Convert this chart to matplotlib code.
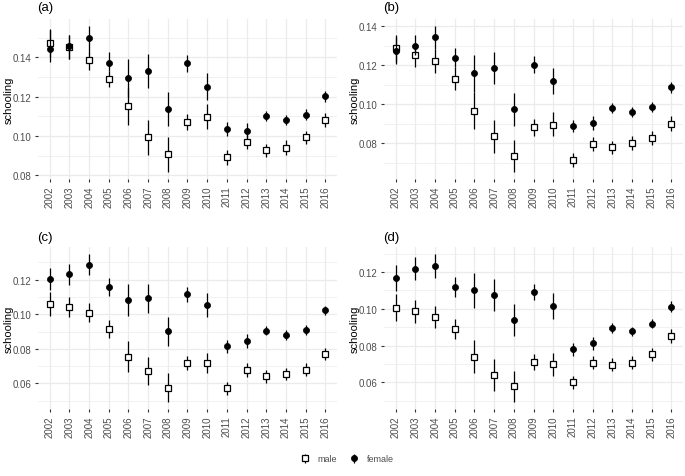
import matplotlib
matplotlib.use("Agg")
import matplotlib.pyplot as plt
from matplotlib.ticker import MultipleLocator, FormatStrFormatter
import numpy as np

plt.rcParams['font.family'] = ['Liberation Sans', 'DejaVu Sans']

years = ["2002", "2003", "2004", "2005", "2006", "2007", "2008", "2009",
         "2010", "2011", "2012", "2013", "2014", "2015", "2016"]

# Panel (a)
a_male = [0.1472, 0.1452, 0.1385, 0.1289, 0.1155, 0.0995, 0.0908, 0.1071,
          0.1099, 0.0892, 0.0970, 0.0928, 0.0941, 0.0993, 0.1081]
a_male_lo = [0.1400, 0.1390, 0.1336, 0.1247, 0.1054, 0.0903, 0.0819, 0.1029,
             0.1037, 0.0855, 0.0936, 0.0894, 0.0906, 0.0958, 0.1045]
a_male_hi = [0.1540, 0.1516, 0.1424, 0.1331, 0.1242, 0.1084, 0.0995, 0.1113,
             0.1163, 0.0931, 0.1007, 0.0961, 0.0978, 0.1025, 0.1118]
a_female = [0.1445, 0.1457, 0.1499, 0.1370, 0.1296, 0.1331, 0.1136, 0.1370,
            0.1252, 0.1037, 0.1027, 0.1101, 0.1082, 0.1109, 0.1202]
a_female_lo = [0.1378, 0.1390, 0.1415, 0.1331, 0.1197, 0.1242, 0.1049, 0.1326,
               0.1185, 0.1003, 0.0990, 0.1076, 0.1057, 0.1082, 0.1171]
a_female_hi = [0.1543, 0.1516, 0.1558, 0.1427, 0.1390, 0.1415, 0.1225, 0.1410,
               0.1319, 0.1071, 0.1066, 0.1126, 0.1109, 0.1138, 0.1230]

# Panel (b)
b_male = [0.1289, 0.1250, 0.1221, 0.1130, 0.0967, 0.0834, 0.0736, 0.0881,
          0.0895, 0.0712, 0.0797, 0.0778, 0.0801, 0.0828, 0.0900]
b_male_lo = [0.1207, 0.1190, 0.1161, 0.1075, 0.0873, 0.0749, 0.0653, 0.0838,
             0.0834, 0.0679, 0.0761, 0.0743, 0.0766, 0.0792, 0.0864]
b_male_hi = [0.1356, 0.1301, 0.1284, 0.1190, 0.1061, 0.0919, 0.0818, 0.0924,
             0.0958, 0.0748, 0.0833, 0.0812, 0.0835, 0.0861, 0.0938]
b_female = [0.1275, 0.1301, 0.1344, 0.1236, 0.1161, 0.1185, 0.0975, 0.1202,
            0.1119, 0.0890, 0.0903, 0.0981, 0.0958, 0.0984, 0.1087]
b_female_lo = [0.1215, 0.1250, 0.1284, 0.1190, 0.1061, 0.1104, 0.0890, 0.1161,
               0.1053, 0.0859, 0.0869, 0.0953, 0.0933, 0.0958, 0.1058]
b_female_hi = [0.1345, 0.1356, 0.1400, 0.1287, 0.1250, 0.1267, 0.1058, 0.1246,
               0.1185, 0.0921, 0.0938, 0.1007, 0.0984, 0.1010, 0.1113]

# Panel (c)
c_male = [0.1061, 0.1045, 0.1010, 0.0916, 0.0754, 0.0674, 0.0575, 0.0719,
          0.0717, 0.0572, 0.0677, 0.0643, 0.0654, 0.0679, 0.0771]
c_male_lo = [0.0992, 0.0986, 0.0955, 0.0862, 0.0664, 0.0592, 0.0495, 0.0676,
             0.0658, 0.0534, 0.0637, 0.0605, 0.0619, 0.0643, 0.0735]
c_male_hi = [0.1128, 0.1103, 0.1064, 0.0966, 0.0843, 0.0755, 0.0658, 0.0759,
             0.0779, 0.0609, 0.0716, 0.0679, 0.0689, 0.0716, 0.0808]
c_female = [0.1204, 0.1231, 0.1285, 0.1161, 0.1081, 0.1093, 0.0903, 0.1115,
            0.1054, 0.0815, 0.0846, 0.0906, 0.0881, 0.0908, 0.1023]
c_female_lo = [0.1138, 0.1171, 0.1225, 0.1109, 0.0988, 0.1006, 0.0817, 0.1070,
               0.0986, 0.0779, 0.0808, 0.0879, 0.0854, 0.0879, 0.0996]
c_female_hi = [0.1270, 0.1289, 0.1347, 0.1212, 0.1177, 0.1177, 0.0986, 0.1157,
               0.1122, 0.0850, 0.0885, 0.0933, 0.0908, 0.0937, 0.1050]

# Panel (d)
d_male = [0.1007, 0.0987, 0.0955, 0.0889, 0.0740, 0.0640, 0.0580, 0.0713,
          0.0698, 0.0602, 0.0707, 0.0696, 0.0707, 0.0753, 0.0853]
d_male_lo = [0.0936, 0.0924, 0.0896, 0.0835, 0.0649, 0.0555, 0.0496, 0.0669,
             0.0636, 0.0567, 0.0671, 0.0660, 0.0671, 0.0718, 0.0815]
d_male_hi = [0.1078, 0.1049, 0.1013, 0.0945, 0.0831, 0.0727, 0.0664, 0.0755,
             0.0758, 0.0636, 0.0744, 0.0733, 0.0744, 0.0787, 0.0891]
d_female = [0.1165, 0.1218, 0.1233, 0.1118, 0.1100, 0.1076, 0.0942, 0.1093,
            0.1018, 0.0780, 0.0813, 0.0896, 0.0878, 0.0920, 0.1011]
d_female_lo = [0.1096, 0.1155, 0.1169, 0.1064, 0.1005, 0.0991, 0.0855, 0.1049,
               0.0945, 0.0745, 0.0776, 0.0869, 0.0853, 0.0895, 0.0982]
d_female_hi = [0.1236, 0.1282, 0.1296, 0.1173, 0.1195, 0.1164, 0.1027, 0.1136,
               0.1085, 0.0813, 0.0849, 0.0922, 0.0904, 0.0945, 0.1040]

panels = [
    ("(a)", a_male, a_male_lo, a_male_hi, a_female, a_female_lo, a_female_hi),
    ("(b)", b_male, b_male_lo, b_male_hi, b_female, b_female_lo, b_female_hi),
    ("(c)", c_male, c_male_lo, c_male_hi, c_female, c_female_lo, c_female_hi),
    ("(d)", d_male, d_male_lo, d_male_hi, d_female, d_female_lo, d_female_hi),
]

W, H = 685, 477
fig = plt.figure(figsize=(W / 100, H / 100), dpi=100)

# panel boxes in pixel coords: (left, top, right, bottom)
boxes = [(38, 20, 337, 180), (384, 20, 683, 180),
         (38, 248, 337, 410), (384, 248, 683, 410)]
label_y = [8, 8, 238, 238]

TEXT = "#4D4D4D"
GRID = "#EBEBEB"
x = np.arange(len(years))
handles = None
for (lab, m, mlo, mhi, f, flo, fhi), (l, t, r, b), ly in zip(panels, boxes, label_y):
    ax = fig.add_axes([l / W, 1 - b / H, (r - l) / W, (b - t) / H])
    m = np.array(m); f = np.array(f)
    em = [m - np.array(mlo), np.array(mhi) - m]
    ef = [f - np.array(flo), np.array(fhi) - f]
    h1 = ax.errorbar(x, m, yerr=em, fmt='s', ms=4.8, mfc='white', mec='black',
                     mew=0.9, ecolor='black', elinewidth=0.9, capsize=0,
                     zorder=3, label='male')
    h2 = ax.errorbar(x, f, yerr=ef, fmt='o', ms=4.4, mfc='black', mec='black',
                     mew=0.5, ecolor='black', elinewidth=0.9, capsize=0,
                     zorder=4, label='female')
    handles = [h1, h2]
    ax.set_xlim(-0.6, len(years) - 1 + 0.6)
    ax.margins(y=0.05)
    ax.yaxis.set_major_locator(MultipleLocator(0.02))
    ax.yaxis.set_minor_locator(MultipleLocator(0.01))
    ax.yaxis.set_major_formatter(FormatStrFormatter('%.2f'))
    ax.set_xticks(x)
    ax.set_xticklabels(years, rotation=90)
    ax.grid(True, which='major', color=GRID, linewidth=0.9, zorder=0)
    ax.grid(True, which='minor', axis='y', color=GRID, linewidth=0.5, zorder=0)
    ax.set_axisbelow(True)
    for s in ax.spines.values():
        s.set_visible(False)
    ax.tick_params(axis='both', which='major', length=2.5, width=0.8,
                   color='#333333', labelcolor=TEXT, labelsize=7, pad=2)
    ax.tick_params(axis='y', which='minor', length=0)
    ax.set_ylabel("schooling", fontsize=8, color='black')
    ax.yaxis.set_label_coords(-24 / (r - l), 0.5)
    fig.text((l - 1) / W, 1 - ly / H, lab, fontsize=9.5, ha='left',
             va='center', color='black')

leg = fig.legend(handles, ['male', 'female'], loc='center',
                 bbox_to_anchor=(347 / W, 1 - 460 / H), ncol=2, frameon=False,
                 fontsize=6.5, handlelength=1.0, columnspacing=1.4,
                 handletextpad=0.9)
for t in leg.get_texts():
    t.set_color(TEXT)

fig.savefig("out.png", dpi=100)
